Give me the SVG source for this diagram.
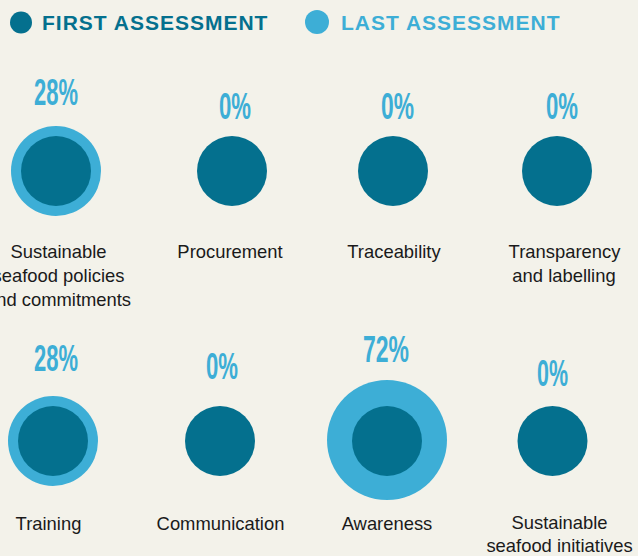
<svg xmlns="http://www.w3.org/2000/svg" width="638" height="556" viewBox="0 0 638 556">
<defs>
<style>
.bg{fill:#F3F2EA}
.first{fill:#04708E}
.last{fill:#3DAED6}
.legend{font-family:"Liberation Sans",Arial,sans-serif;font-weight:bold;font-size:21px;letter-spacing:1px}
.pct{font-family:"Liberation Sans",Arial,sans-serif;font-weight:bold;font-size:36px;fill:#3DAED6}
.lbl{font-family:"Liberation Sans",Arial,sans-serif;font-size:18.4px;fill:#1a1a1a;text-anchor:middle}
</style>
</defs>
<rect class="bg" x="0" y="0" width="638" height="556"/>
<g id="legend">
<circle class="first" cx="21" cy="22.5" r="11"/>
<text class="legend" x="42" y="30" fill="#04708E">FIRST ASSESSMENT</text>
<circle class="last" cx="317" cy="22" r="12"/>
<text class="legend" x="341" y="30" fill="#3DAED6">LAST ASSESSMENT</text>
</g>
<g id="connectors"/>
<g id="node-policies">
<circle class="last" cx="56" cy="171" r="45"/>
<circle class="first" cx="56" cy="171" r="35"/>
<text class="pct" x="34" y="105" textLength="44" lengthAdjust="spacingAndGlyphs">28%</text>
<text class="lbl" x="58.5" y="258">Sustainable</text>
<text class="lbl" x="58.5" y="282">seafood policies</text>
<text class="lbl" x="58.5" y="306">and commitments</text>
</g>
<g id="node-procurement">
<circle class="first" cx="232" cy="171" r="35"/>
<text class="pct" x="219" y="119" textLength="32" lengthAdjust="spacingAndGlyphs">0%</text>
<text class="lbl" x="230" y="258">Procurement</text>
</g>
<g id="node-traceability">
<circle class="first" cx="393" cy="171" r="35"/>
<text class="pct" x="381" y="119" textLength="33" lengthAdjust="spacingAndGlyphs">0%</text>
<text class="lbl" x="394" y="258">Traceability</text>
</g>
<g id="node-transparency">
<circle class="first" cx="557" cy="171" r="35"/>
<text class="pct" x="546" y="119" textLength="32" lengthAdjust="spacingAndGlyphs">0%</text>
<text class="lbl" x="564.5" y="258">Transparency</text>
<text class="lbl" x="564" y="282">and labelling</text>
</g>
<g id="node-training">
<circle class="last" cx="53" cy="441" r="45"/>
<circle class="first" cx="53" cy="441" r="35"/>
<text class="pct" x="34" y="371" textLength="44" lengthAdjust="spacingAndGlyphs">28%</text>
<text class="lbl" x="48.5" y="530">Training</text>
</g>
<g id="node-communication">
<circle class="first" cx="220" cy="441" r="35"/>
<text class="pct" x="206" y="379" textLength="32" lengthAdjust="spacingAndGlyphs">0%</text>
<text class="lbl" x="220.5" y="530">Communication</text>
</g>
<g id="node-awareness">
<circle class="last" cx="387" cy="440" r="60"/>
<circle class="first" cx="387" cy="441" r="35"/>
<text class="pct" x="363" y="362" textLength="46" lengthAdjust="spacingAndGlyphs">72%</text>
<text class="lbl" x="387" y="530">Awareness</text>
</g>
<g id="node-initiatives">
<circle class="first" cx="552.5" cy="441" r="35"/>
<text class="pct" x="537" y="386" textLength="31" lengthAdjust="spacingAndGlyphs">0%</text>
<text class="lbl" x="559.5" y="529">Sustainable</text>
<text class="lbl" x="559.5" y="552">seafood initiatives</text>
</g>
</svg>
